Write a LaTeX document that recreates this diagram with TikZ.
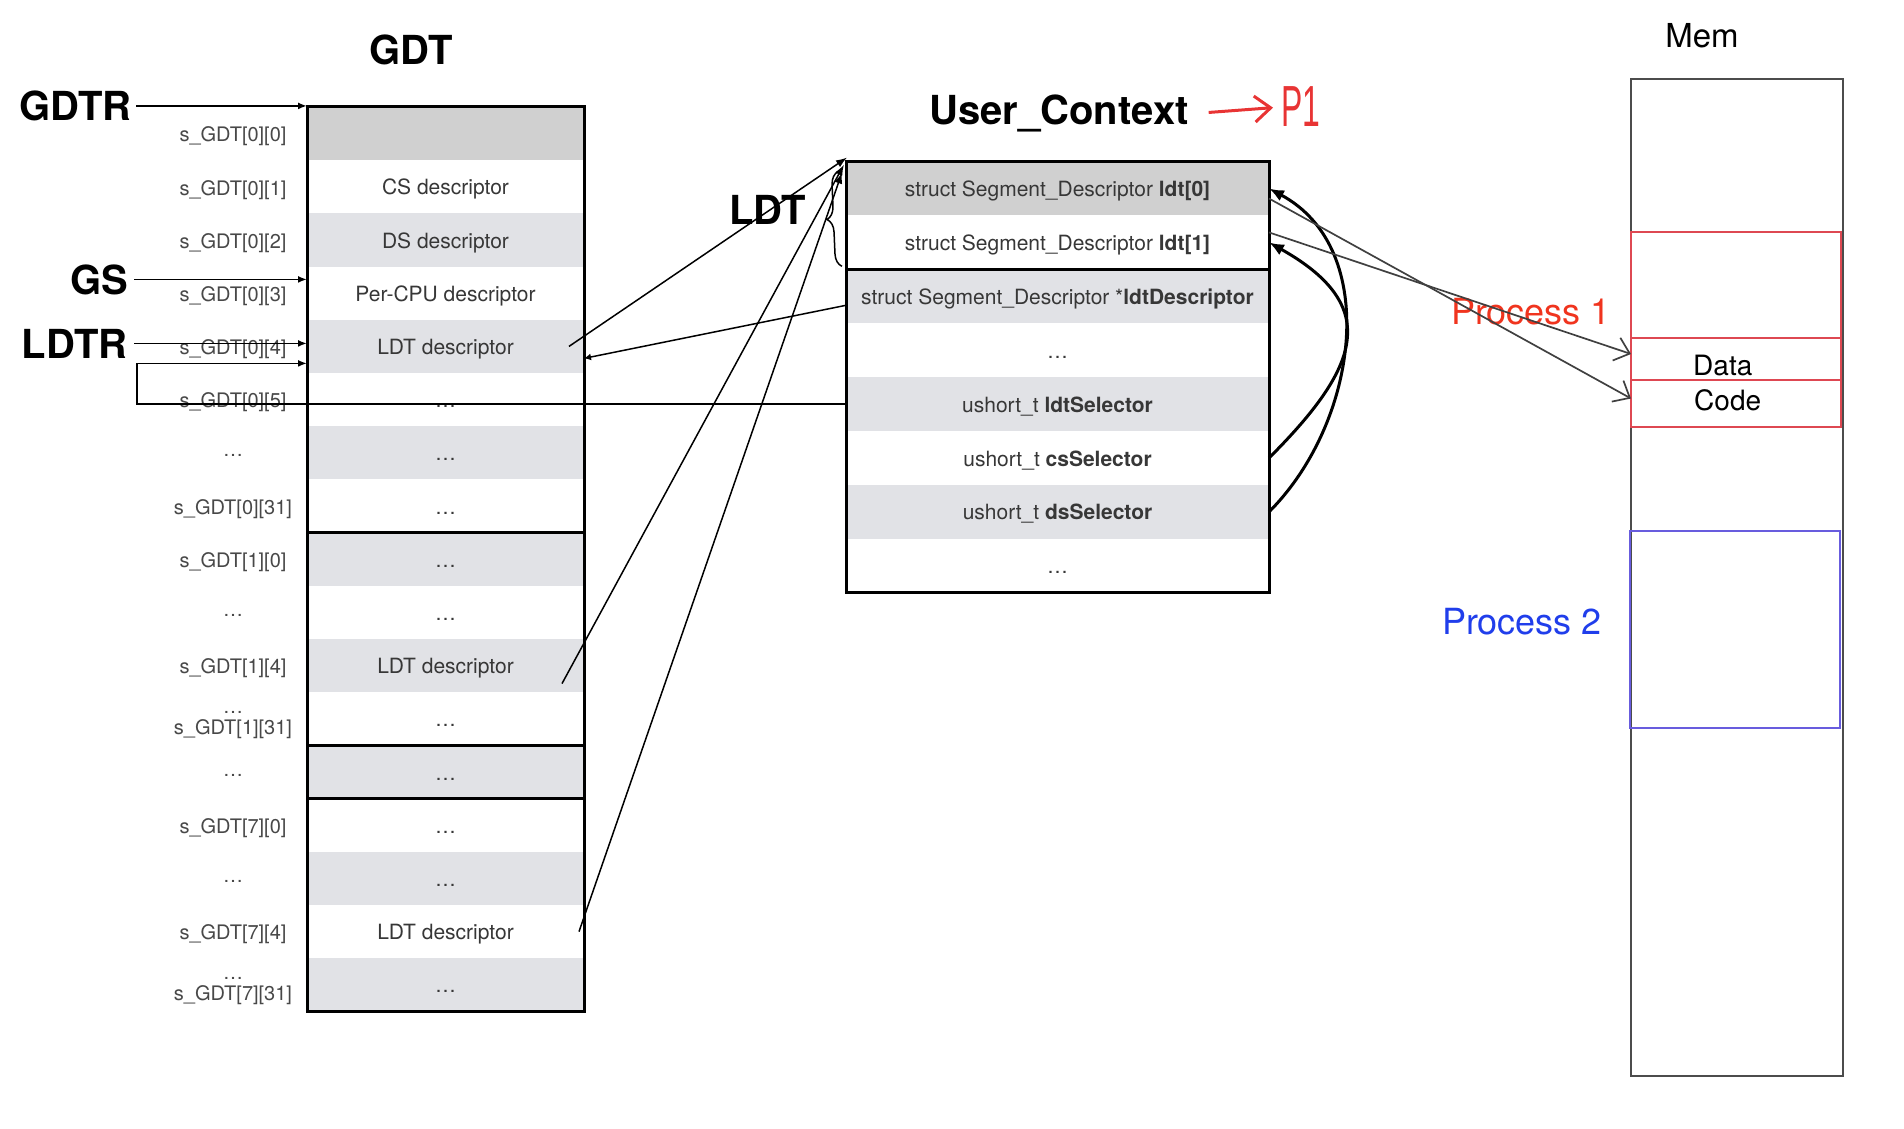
\documentclass[tikz,border=0pt]{standalone}
\usepackage{fontspec}
\setmainfont{TeX Gyre Heros}
\newfontfamily\handfont[FakeStretch=0.55]{Liberation Sans}
\usetikzlibrary{positioning,arrows.meta,decorations.pathreplacing}

\definecolor{darkrow}{RGB}{208,208,208}
\definecolor{lightrow}{RGB}{225,226,230}
\definecolor{textgray}{RGB}{55,55,55}
\definecolor{labelgray}{RGB}{72,72,72}
\definecolor{procred}{RGB}{240,52,30}
\definecolor{boxred}{RGB}{222,72,82}
\definecolor{procblue}{RGB}{32,62,235}
\definecolor{boxblue}{RGB}{104,92,222}
\definecolor{penred}{RGB}{232,52,52}

\begin{document}
\begin{tikzpicture}[x=1pt, y=1pt, node distance = 0pt,
  gdtrow/.style = {minimum width=277pt, minimum height=53.2pt, inner sep=0pt,
    outer sep=0pt, text height=18pt, text depth=2pt,
    font=\fontsize{21}{25}\selectfont, text=textgray},
  ucrow/.style = {gdtrow, minimum width=423pt, minimum height=53.9pt},
  slot/.style = {inner sep=0pt, align=center, text=labelgray,
    font=\fontsize{20}{21}\selectfont},
  head/.style = {inner sep=0pt, font=\fontsize{40}{44}\selectfont\bfseries},
  memcol/.style = {draw=black!70, line width=2pt, inner sep=0pt,
    minimum width=212pt},
  p1box/.style = {draw=boxred, line width=1.6pt, inner sep=0pt, outer sep=0pt,
    minimum width=210pt},
  memtxt/.style = {inner sep=0pt, font=\fontsize{28}{30}\selectfont},
  thickline/.style = {line width=3pt},
  ptr/.style = {line width=1.8pt, -{Latex[length=9pt,width=7pt]}},
  arr/.style = {line width=1.5pt, -{Latex[length=11pt,width=8pt]}},
  selarr/.style = {line width=3pt, -{Latex[length=15pt,width=12pt]}},
  memarr/.style = {line width=1.7pt, draw=black!75,
    -{Straight Barb[length=14pt,width=24pt]}}
  ]
  \useasboundingbox (0,0) rectangle (1904,-1129);

  % GDT
  \node[head, anchor=base] (gdt) at (411,-65) {GDT};
  \node[gdtrow, fill=darkrow] (g0) at (445.5,-133.6) {};
  \foreach \txt/\clr [count=\i, remember=\i as \j (initially 0)] in
    {CS descriptor/white, DS descriptor/lightrow, Per-CPU descriptor/white,
     LDT descriptor/lightrow, \dots/white, \dots/lightrow, \dots/white,
     \dots/lightrow, \dots/white, LDT descriptor/lightrow, \dots/white,
     \dots/lightrow, \dots/white, \dots/lightrow, LDT descriptor/white,
     \dots/lightrow}
    \node[gdtrow, fill=\clr, below=of g\j] (g\i) {\txt};
  \draw[thickline] (g0.north west) rectangle (g16.south east);
  \foreach \k in {8,12,13}
    \draw[thickline] (g\k.north west) -- (g\k.north east);

  \coordinate (slotx) at (233,0);
  \foreach \lbl/\dy [count=\i from 0] in
    {s\_GDT[0][0]/-3, s\_GDT[0][1]/-3, s\_GDT[0][2]/-3, s\_GDT[0][3]/-3,
     s\_GDT[0][4]/-3, s\_GDT[0][5]/-3, \dots/-3, s\_GDT[0][31]/-3,
     s\_GDT[1][0]/-3, \dots/-3, s\_GDT[1][4]/-3, {\dots\\s\_GDT[1][31]}/-6,
     \dots/-3, s\_GDT[7][0]/-3, \dots/-3, s\_GDT[7][4]/-3,
     {\dots\\s\_GDT[7][31]}/-6}
    \node[slot, yshift=\dy pt] at (slotx |- g\i) {\lbl};

  % registers
  \node[head, anchor=base east] (gdtr) at (132,-120.5) {GDTR};
  \node[head, anchor=base east] (gs) at (128,-294) {GS};
  \node[head, anchor=base east] (ldtr) at (128,-358) {LDTR};
  \draw[ptr, shorten <=4pt] (gdtr.east) -- (gdtr.east -| g0.west);
  \draw[ptr, shorten <=6pt] (gs.east) -- (gs.east -| g3.west);
  \draw[ptr, shorten <=6pt] (ldtr.east) -- (ldtr.east -| g4.west);

  % User_Context
  \node[head, anchor=base] (uctx) at (1059,-125) {User\_Context};
  \node[ucrow, fill=darkrow] (u0) at (1057.5,-188.5)
    {struct Segment\_Descriptor \textbf{ldt[0]}};
  \node[ucrow, fill=white, below=of u0] (u1)
    {struct Segment\_Descriptor \textbf{ldt[1]}};
  \node[ucrow, fill=lightrow, below=of u1] (u2)
    {struct Segment\_Descriptor *\textbf{ldtDescriptor}};
  \node[ucrow, fill=white, below=of u2] (u3) {\dots};
  \node[ucrow, fill=lightrow, below=of u3] (u4) {ushort\_t \textbf{ldtSelector}};
  \node[ucrow, fill=white, below=of u4] (u5) {ushort\_t \textbf{csSelector}};
  \node[ucrow, fill=lightrow, below=of u5] (u6) {ushort\_t \textbf{dsSelector}};
  \node[ucrow, fill=white, below=of u6] (u7) {\dots};
  \draw[thickline] (u0.north west) rectangle (u7.south east);
  \draw[thickline] (u2.north west) -- (u2.north east);

  \node[inner sep=0pt, anchor=base west, text=penred,
    font=\handfont\fontsize{58}{60}\selectfont] (p1) at (1281,-127) {P1};
  \draw[penred, line width=3pt, shorten <=20pt, shorten >=8pt,
    -{Straight Barb[length=16pt,width=26pt]}] (uctx.east) -- (p1.west);

  \node[head, anchor=base west] (ldt) at (729,-224) {LDT};
  \draw[line width=1.5pt, decorate, decoration={brace, amplitude=13pt}]
    ([xshift=-4pt, yshift=3pt]u1.south west)
    -- ([xshift=-8pt, yshift=-10pt]u0.north west);

  % GDT <-> LDT
  \draw[arr] ([xshift=-15pt]g4.east) -- ([xshift=1pt, yshift=4pt]u0.north west);
  \draw[arr] ([xshift=-22pt, yshift=-18pt]g10.east)
    -- ([xshift=-2pt, yshift=-3pt]u0.north west);
  \draw[arr] ([xshift=-5pt]g15.east) -- ([xshift=-4pt, yshift=-11pt]u0.north west);
  \draw[arr, -{Latex[length=7pt,width=7pt]}] ([yshift=-9pt]u2.west)
    -- ([yshift=-12pt]g4.east);
  \draw[ptr] (u4.west) -| ([xshift=-170pt, yshift=-17pt]g4.west)
    -- ([yshift=-17pt]g4.west);

  \draw[selarr] (u6.east) .. controls +(90,90) and +(112,-60) .. (u0.east);
  \draw[selarr] (u5.east) .. controls +(90,90) and +(114,-64) .. (u1.east);

  % Mem
  \node[inner sep=0pt, anchor=base, font=\fontsize{33}{36}\selectfont]
    (memlbl) at (1702,-48) {Mem};
  \node[memcol, minimum height=997pt] (mem) at (1737,-577.5) {};
  \node[p1box, minimum height=106pt] (p1top) at (1736,-285) {};
  \node[p1box, minimum height=42pt, below=of p1top] (data) {};
  \node[p1box, minimum height=47pt, below=of data] (code) {};
  \node[p1box, draw=boxblue, minimum height=197pt] (p2) at (1735,-629.5) {};
  \node[memtxt, anchor=west] (datalbl) at ([xshift=62pt, yshift=-6.5pt]data.west) {Data};
  \node[memtxt, anchor=west] (codelbl) at ([xshift=63pt, yshift=3.5pt]code.west) {Code};
  \node[text=procred, font=\fontsize{36}{40}\selectfont] (proc1) at (1531,-312) {Process 1};
  \node[text=procblue, font=\fontsize{36}{40}\selectfont] (proc2) at (1522,-622) {Process 2};
  \draw[memarr] ([yshift=-10pt]u0.east) -- ([yshift=5pt]code.west);
  \draw[memarr] ([yshift=10pt]u1.east) -- ([yshift=5pt]data.west);
\end{tikzpicture}
\end{document}
